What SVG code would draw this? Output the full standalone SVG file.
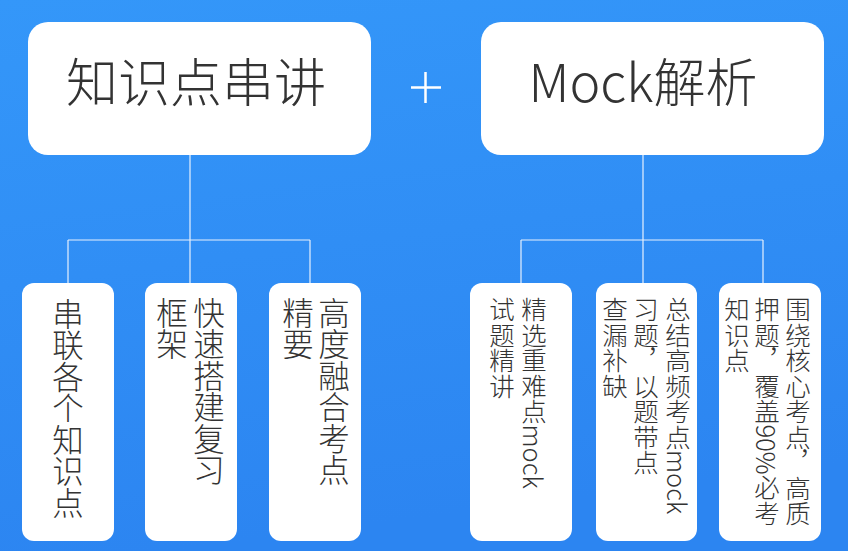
<svg xmlns="http://www.w3.org/2000/svg" width="848" height="551" viewBox="0 0 848 551">
  <defs>
    <linearGradient id="bg" x1="0" y1="0" x2="0.2" y2="1">
      <stop offset="0" stop-color="#3497f9"/>
      <stop offset="1" stop-color="#2c85f1"/>
    </linearGradient>
    <style>
      .main{fill:#ffffff;}
      .t{font-family:"Noto Sans CJK SC","Noto Sans",sans-serif;font-weight:300;fill:#333333;}
      .big{font-size:52px;text-anchor:middle;}
      .v1{font-size:31.5px;writing-mode:vertical-rl;}
      .v2{font-size:25.5px;writing-mode:vertical-rl;}
      .ln{stroke:#e6f0fd;stroke-width:1.2;fill:none;}
    </style>
  </defs>
  <rect x="0" y="0" width="848" height="551" fill="url(#bg)"/>

  <g id="connectors">
    <path class="ln" d="M190 155V283M68 240H310M68 240V283M310 240V283"/>
    <path class="ln" d="M643 155V283M521 240H763M521 240V283M763 240V283"/>
  </g>

  <g id="plus">
    <path d="M411 87.5H441M425.5 72V103" stroke="#ffffff" stroke-width="2.5" fill="none"/>
  </g>

  <g id="node-zhishidian">
    <rect class="main" x="28" y="22" width="343" height="133" rx="20"/>
    <text class="t big" x="196" y="102">知识点串讲</text>
  </g>
  <g id="node-mock">
    <rect class="main" x="481" y="22" width="343" height="133" rx="20"/>
    <text class="t big" x="643" y="102">Mock解析</text>
  </g>

  <g id="node-l1">
    <rect class="main" x="22" y="283" width="92" height="258" rx="12"/>
    <text class="t v1" x="68" y="298">串联各个知识点</text>
  </g>
  <g id="node-l2">
    <rect class="main" x="145" y="283" width="92" height="258" rx="12"/>
    <text class="t v1" x="209" y="297">快速搭建复习</text>
    <text class="t v1" x="172" y="297">框架</text>
  </g>
  <g id="node-l3">
    <rect class="main" x="269" y="283" width="92" height="258" rx="12"/>
    <text class="t v1" x="334" y="297">高度融合考点</text>
    <text class="t v1" x="298" y="297">精要</text>
  </g>

  <g id="node-r1">
    <rect class="main" x="470" y="283" width="102" height="258" rx="12"/>
    <text class="t v2" x="534" y="297">精选重难点mock</text>
    <text class="t v2" x="502" y="297">试题精讲</text>
  </g>
  <g id="node-r2">
    <rect class="main" x="596" y="283" width="101" height="258" rx="12"/>
    <text class="t v2" x="678" y="297">总结高频考点mock</text>
    <text class="t v2" x="646" y="297">习题，以题带点</text>
    <text class="t v2" x="615" y="297">查漏补缺</text>
  </g>
  <g id="node-r3">
    <rect class="main" x="719" y="283" width="102" height="258" rx="12"/>
    <text class="t v2" x="798" y="297">围绕核心考点，高质</text>
    <text class="t v2" x="767" y="297">押题，覆盖90%必考</text>
    <text class="t v2" x="737" y="297">知识点</text>
  </g>
</svg>
